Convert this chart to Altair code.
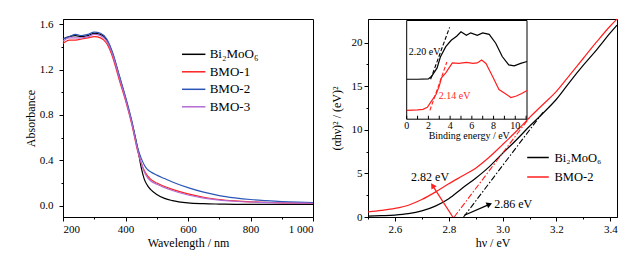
import altair as alt
import pandas as pd

# ---------------- Left panel: UV-vis absorbance ----------------
wavelength = [200, 220, 240, 260, 280, 300, 320, 340, 360, 380, 400, 420, 440, 450, 460,
              470, 480, 500, 525, 550, 600, 650, 700, 750, 800, 850, 900, 950, 1000]
abs_bmo = [1.47, 1.49, 1.50, 1.49, 1.50, 1.52, 1.51, 1.46, 1.33, 1.14, 0.95, 0.74, 0.49, 0.34, 0.235,
           0.18, 0.145, 0.10, 0.065, 0.045, 0.025, 0.018, 0.015, 0.013, 0.012, 0.012, 0.012, 0.012, 0.012]
abs_bmo1 = [1.43, 1.46, 1.46, 1.47, 1.48, 1.49, 1.48, 1.43, 1.30, 1.11, 0.93, 0.72, 0.47, 0.38, 0.31,
            0.265, 0.235, 0.20, 0.17, 0.145, 0.105, 0.075, 0.055, 0.043, 0.035, 0.030, 0.026, 0.024, 0.023]
abs_bmo2 = [1.47, 1.49, 1.51, 1.50, 1.51, 1.53, 1.52, 1.47, 1.34, 1.15, 0.96, 0.75, 0.50, 0.42, 0.36,
            0.32, 0.30, 0.27, 0.24, 0.21, 0.16, 0.12, 0.09, 0.07, 0.055, 0.045, 0.037, 0.032, 0.029]
abs_bmo3 = [1.45, 1.48, 1.48, 1.48, 1.49, 1.51, 1.50, 1.45, 1.32, 1.13, 0.94, 0.73, 0.48, 0.38, 0.30,
            0.25, 0.22, 0.19, 0.16, 0.135, 0.095, 0.068, 0.05, 0.04, 0.033, 0.028, 0.025, 0.023, 0.022]
uv_names = ["Bi\u2082MoO\u2086", "BMO-1", "BMO-2", "BMO-3"]
uv_colors = ["#000000", "#ff1f1f", "#2b56b8", "#b56ad2"]
wl_ticks = [200, 300, 400, 500, 600, 700, 800, 900, 1000]
abs_ticks = [0.0, 0.2, 0.4, 0.6, 0.8, 1.0, 1.2, 1.4, 1.6]

# ---------------- Right panel: Tauc plot ----------------
hv = [2.50, 2.55, 2.60, 2.65, 2.70, 2.75, 2.80, 2.85, 2.90, 2.95,
      3.00, 3.05, 3.10, 3.15, 3.20, 3.25, 3.30, 3.35, 3.40, 3.425]
tauc_bmo = [0.10, 0.15, 0.22, 0.38, 0.70, 1.25, 2.1, 3.3, 4.45, 5.75,
            7.3, 8.8, 10.4, 11.9, 13.5, 15.5, 17.4, 19.2, 21.1, 22.0]
tauc_bmo2 = [0.57, 0.75, 0.98, 1.35, 2.0, 2.85, 3.8, 4.7, 5.6, 6.85,
             8.3, 9.8, 11.4, 12.9, 14.4, 16.3, 18.2, 20.1, 21.9, 22.7]
tauc_names = ["Bi\u2082MoO\u2086", "BMO-2"]
tauc_colors = ["#000000", "#ff1f1f"]
hv_ticks = [2.5, 2.6, 2.7, 2.8, 2.9, 3.0, 3.1, 3.2, 3.3, 3.4]
tauc_ticks = [0, 2.5, 5, 7.5, 10, 12.5, 15, 17.5, 20]

# extrapolated tangents (hv, value)
tan_bmo_hv = [2.855, 3.15]
tan_bmo_val = [0.0, 12.0]
tan_bmo2_hv = [2.82, 3.10]
tan_bmo2_val = [0.0, 11.4]

# arrows: tail -> head
arrow_red_hv = [2.815, 2.74]
arrow_red_val = [0.0, 3.6]
arrow_blk_hv = [2.858, 2.951]
arrow_blk_val = [0.2, 1.45]
arrow_angles = [327, 66]

ann_labels = ["2.82 eV", "2.86 eV"]
ann_hv = [2.66, 2.969]
ann_val = [4.55, 1.5]

# ---------------- Inset: VB-XPS ----------------
be_bmo = [0, 1.0, 2.0, 2.3, 2.8, 3.1, 3.6, 4.1, 4.6, 5.0, 5.5, 5.9, 6.5, 7.0, 7.6, 8.2, 8.8, 9.4, 9.9, 10.5, 11.08]
xps_bmo = [40.5, 40.5, 40.8, 43.5, 52, 63, 73.5, 80, 84, 88.5, 85, 87.5, 85, 87.5, 86, 77, 63.5, 55, 54, 56.5, 58.5]
be_bmo2 = [0, 1.0, 1.5, 1.9, 2.2, 2.7, 3.0, 3.2, 3.6, 4.2, 4.8, 5.5, 6.1, 6.5, 6.9, 7.3, 7.9, 8.5, 9.2, 9.6, 10.1, 10.6, 11.08]
xps_bmo2 = [9, 9.5, 10, 12, 17, 25, 33.5, 42, 47, 57, 56.5, 57.5, 56.5, 57, 60, 56.5, 43.5, 30, 25, 22, 23.5, 26, 29]
xtan_bmo_be = [2.20, 3.95]
xtan_bmo_val = [40.5, 93]
xtan_bmo2_be = [2.14, 3.70]
xtan_bmo2_val = [9, 58]
inset_labels = ["2.20 eV", "2.14 eV"]
inset_label_be = [0.2, 2.95]
inset_label_val = [68.3, 23.7]
be_ticks = [0, 1, 2, 3, 4, 5, 6, 7, 8, 9, 10, 11]
be_tick_labels = ["0", "2", "4", "6", "8", "10"]
be_tick_label_vals = [0, 2, 4, 6, 8, 10]
inset_title = "Binding energy / eV"

FONT = "Liberation Serif"

# ---------- left chart ----------
uv_rows = []
for name, vals in zip(uv_names, [abs_bmo, abs_bmo1, abs_bmo2, abs_bmo3]):
    for w, a in zip(wavelength, vals):
        uv_rows.append({"wl": w, "A": a, "sample": name})
uv = pd.DataFrame(uv_rows)

left = alt.Chart(uv).mark_line(strokeWidth=1.2, interpolate="monotone").encode(
    x=alt.X("wl:Q", scale=alt.Scale(domain=[200, 1000], nice=False, zero=False),
            axis=alt.Axis(values=wl_ticks, title="Wavelength / nm",
                          labelExpr="datum.value % 200 === 0 ? (datum.value === 1000 ? '1 000' : datum.value + '') : ''",
                          tickSize={"condition": {"test": "datum.value % 200 === 0", "value": 4}, "value": 2},
                          labelPadding=2, titlePadding=3)),
    y=alt.Y("A:Q", scale=alt.Scale(domain=[-0.099, 1.646], nice=False, zero=False),
            axis=alt.Axis(values=abs_ticks, title="Absorbance",
                          labelExpr="round(datum.value * 10) % 4 === 0 ? format(datum.value, '.1f') : ''",
                          tickSize={"condition": {"test": "round(datum.value * 10) % 4 === 0", "value": 4}, "value": 2},
                          labelPadding=6, titlePadding=2)),
    color=alt.Color("sample:N", scale=alt.Scale(domain=uv_names, range=uv_colors),
                    sort=uv_names,
                    legend=alt.Legend(title=None, orient="none", legendX=120.7, legendY=25.3,
                                      symbolType="M-1.3,0H1.3", symbolSize=324, symbolStrokeWidth=1.5,
                                      labelFont=FONT, labelFontSize=13, labelColor="black",
                                      rowPadding=0.5, labelOffset=6, padding=0)),
).properties(width=250, height=198)

# ---------- right chart ----------
tauc_rows = []
for name, vals in zip(tauc_names, [tauc_bmo, tauc_bmo2]):
    for h, v in zip(hv, vals):
        tauc_rows.append({"hv": h, "val": v, "sample": name})
tauc = pd.DataFrame(tauc_rows)

xs = alt.Scale(domain=[2.5, 3.425], nice=False, zero=False)
ys = alt.Scale(domain=[0, 22.7], nice=False, zero=False)

curves = alt.Chart(tauc).mark_line(strokeWidth=1.2, interpolate="monotone").encode(
    x=alt.X("hv:Q", scale=xs,
            axis=alt.Axis(values=hv_ticks, title="h\u03bd / eV",
                          labelExpr="round(datum.value * 10) % 2 === 0 ? format(datum.value, '.1f') : ''",
                          tickSize={"condition": {"test": "round(datum.value * 10) % 2 === 0", "value": 4}, "value": 2},
                          labelPadding=2, titlePadding=3)),
    y=alt.Y("val:Q", scale=ys,
            axis=alt.Axis(values=tauc_ticks, title="(\u03b1h\u03bd)\u00b2 / (eV)\u00b2",
                          labelExpr="round(datum.value * 10) % 50 === 0 ? format(datum.value, 'd') : ''",
                          tickSize={"condition": {"test": "round(datum.value * 10) % 50 === 0", "value": 4}, "value": 2},
                          labelPadding=2, titlePadding=8)),
    color=alt.Color("sample:N", scale=alt.Scale(domain=tauc_names, range=tauc_colors), sort=tauc_names,
                    legend=alt.Legend(title=None, orient="none", legendX=160, legendY=128.5,
                                      symbolType="M-1.2,0H1.2", symbolSize=324, symbolStrokeWidth=1.5,
                                      labelFont=FONT, labelFontSize=12.5, labelColor="black",
                                      rowPadding=2.5, labelOffset=6.5, padding=0)),
)

tan_df = pd.DataFrame({
    "hv": tan_bmo_hv + tan_bmo2_hv,
    "val": tan_bmo_val + tan_bmo2_val,
    "line": ["b", "b", "r", "r"],
    "c": ["#000000", "#000000", "#ff1f1f", "#ff1f1f"],
})
tangents = alt.Chart(tan_df).mark_line(strokeWidth=1.1, strokeDash=[6, 2, 1.5, 2]).encode(
    x=alt.X("hv:Q", scale=xs, axis=None), y=alt.Y("val:Q", scale=ys, axis=None),
    detail="line:N", stroke=alt.Stroke("c:N", scale=None),
)

arr_df = pd.DataFrame({
    "hv": arrow_red_hv + arrow_blk_hv,
    "val": arrow_red_val + arrow_blk_val,
    "line": ["r", "r", "b", "b"],
    "c": ["#ff1f1f", "#ff1f1f", "#000000", "#000000"],
})
shafts = alt.Chart(arr_df).mark_line(strokeWidth=1.3).encode(
    x=alt.X("hv:Q", scale=xs, axis=None), y=alt.Y("val:Q", scale=ys, axis=None),
    detail="line:N", stroke=alt.Stroke("c:N", scale=None),
)
head_df = pd.DataFrame({
    "hv": [arrow_red_hv[1], arrow_blk_hv[1]],
    "val": [arrow_red_val[1], arrow_blk_val[1]],
    "ang": arrow_angles,
    "c": ["#ff1f1f", "#000000"],
})
heads = alt.Chart(head_df).mark_point(shape="triangle-up", filled=True, size=40, opacity=1).encode(
    x=alt.X("hv:Q", scale=xs, axis=None), y=alt.Y("val:Q", scale=ys, axis=None),
    angle=alt.Angle("ang:Q", scale=None), fill=alt.Fill("c:N", scale=None),
)
ann_df = pd.DataFrame({"hv": ann_hv, "val": ann_val, "t": ann_labels})
ann = alt.Chart(ann_df).mark_text(font=FONT, fontSize=12, align="left", baseline="middle", color="black").encode(
    x=alt.X("hv:Q", scale=xs, axis=None), y=alt.Y("val:Q", scale=ys, axis=None), text="t:N",
)

# ---------- inset ----------
ixs = alt.Scale(domain=[0, 11.08], range=[38.7, 159], nice=False, zero=False)
iys = alt.Scale(domain=[0, 100], range=[100.2, 1.5], nice=False, zero=False)

frame_df = pd.DataFrame({"b0": [0], "b1": [11.08], "v0": [0], "v1": [100]})
frame = alt.Chart(frame_df).mark_rect(fill="white", stroke="black", strokeWidth=1).encode(
    x=alt.X("b0:Q", scale=ixs, axis=None), x2="b1:Q",
    y=alt.Y("v0:Q", scale=iys, axis=None), y2="v1:Q",
)
tick_df = pd.DataFrame({"be": be_ticks, "v0": [0] * len(be_ticks), "v1": [3.5] * len(be_ticks)})
iticks = alt.Chart(tick_df).mark_rule(color="black", strokeWidth=1).encode(
    x=alt.X("be:Q", scale=ixs, axis=None), y=alt.Y("v0:Q", scale=iys, axis=None), y2="v1:Q",
)
tl_df = pd.DataFrame({"be": be_tick_label_vals, "t": be_tick_labels, "v": [-6.6] * len(be_tick_labels)})
itl = alt.Chart(tl_df).mark_text(font=FONT, fontSize=10, baseline="middle", align="center", color="black").encode(
    x=alt.X("be:Q", scale=ixs, axis=None), y=alt.Y("v:Q", scale=iys, axis=None), text="t:N",
)
it_df = pd.DataFrame({"be": [5.76], "v": [-16.8], "t": [inset_title]})
ititle = alt.Chart(it_df).mark_text(font=FONT, fontSize=10, baseline="middle", align="center", color="black").encode(
    x=alt.X("be:Q", scale=ixs, axis=None), y=alt.Y("v:Q", scale=iys, axis=None), text="t:N",
)
xps_df = pd.DataFrame({
    "be": be_bmo + be_bmo2,
    "v": xps_bmo + xps_bmo2,
    "line": ["b"] * len(be_bmo) + ["r"] * len(be_bmo2),
    "c": ["#000000"] * len(be_bmo) + ["#ff1f1f"] * len(be_bmo2),
})
xps = alt.Chart(xps_df).mark_line(strokeWidth=1.2).encode(
    x=alt.X("be:Q", scale=ixs, axis=None), y=alt.Y("v:Q", scale=iys, axis=None),
    detail="line:N", stroke=alt.Stroke("c:N", scale=None),
)
xtan_df = pd.DataFrame({
    "be": xtan_bmo_be + xtan_bmo2_be,
    "v": xtan_bmo_val + xtan_bmo2_val,
    "line": ["b", "b", "r", "r"],
    "c": ["#000000", "#000000", "#ff1f1f", "#ff1f1f"],
})
xtan = alt.Chart(xtan_df).mark_line(strokeWidth=1.1, strokeDash=[4, 2]).encode(
    x=alt.X("be:Q", scale=ixs, axis=None), y=alt.Y("v:Q", scale=iys, axis=None),
    detail="line:N", stroke=alt.Stroke("c:N", scale=None),
)
ilab_df = pd.DataFrame({"be": inset_label_be, "v": inset_label_val, "t": inset_labels,
                        "c": ["#000000", "#ff1f1f"]})
ilab = alt.Chart(ilab_df).mark_text(font=FONT, fontSize=10, align="left", baseline="middle").encode(
    x=alt.X("be:Q", scale=ixs, axis=None), y=alt.Y("v:Q", scale=iys, axis=None), text="t:N",
    fill=alt.Fill("c:N", scale=None),
)

right = alt.layer(
    curves, tangents, shafts, heads, ann,
    frame, iticks, itl, ititle, xps, xtan, ilab,
).resolve_scale(x="independent", y="independent").properties(width=249, height=198)

chart = alt.hconcat(left, right, spacing=55, bounds="flush").resolve_scale(color="independent").properties(
    padding={"left": 23, "top": 16, "right": 5, "bottom": 5}
).configure_axis(
    labelFont=FONT, titleFont=FONT, labelFontSize=11, titleFontSize=12, titleFontWeight="normal",
    labelColor="black", titleColor="black", domainColor="black", tickColor="black", grid=False,
    domainWidth=1, tickWidth=1,
).configure_legend(labelFont=FONT).configure_view(stroke="black", strokeWidth=1).configure_text(font=FONT)

chart.save("out.html", embed_options={"renderer": "svg", "actions": False})
